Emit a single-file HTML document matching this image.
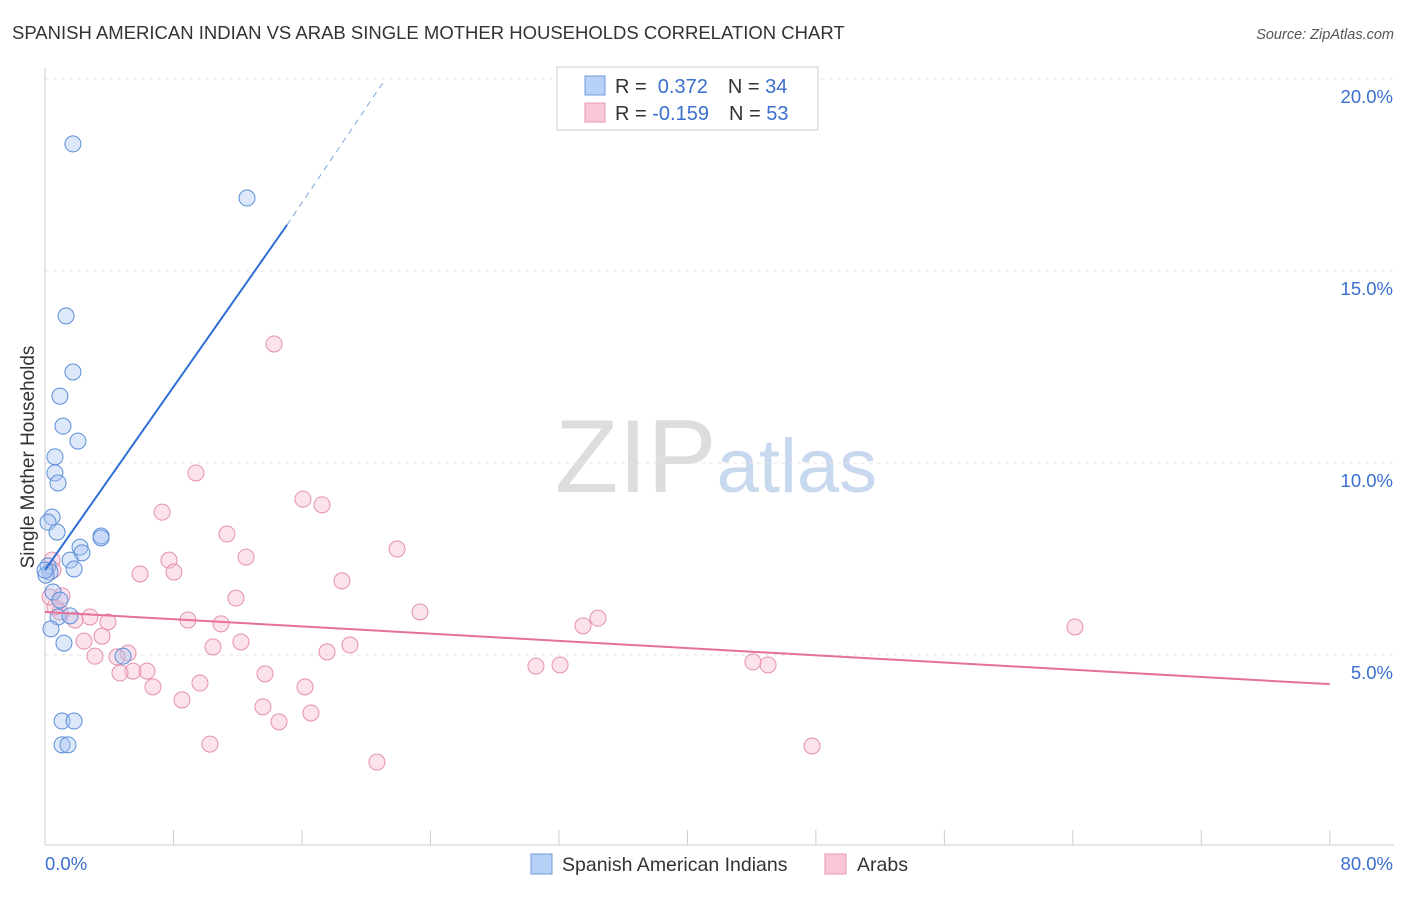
<!DOCTYPE html>
<html><head><meta charset="utf-8"><style>
body{margin:0;background:#fff;font-family:"Liberation Sans",sans-serif}
svg text{font-family:"Liberation Sans",sans-serif}
</style></head><body>
<svg width="1406" height="892" xmlns="http://www.w3.org/2000/svg" id="chart">
<text x="12" y="39" font-size="18.5" fill="#333">SPANISH AMERICAN INDIAN VS ARAB SINGLE MOTHER HOUSEHOLDS CORRELATION CHART</text>
<text x="1394" y="39" font-size="14.5" fill="#555" text-anchor="end" font-style="italic">Source: ZipAtlas.com</text>
<text x="716" y="492" font-size="104" text-anchor="middle" fill="#ddd" font-family="Liberation Serif">ZIP<tspan fill="#c8d8ee" font-family="Liberation Sans" font-size="76">atlas</tspan></text>
<text transform="translate(34,457) rotate(-90)" font-size="19" fill="#333" text-anchor="middle">Single Mother Households</text>
<g id="grid"></g><g id="axes"></g><g id="marks"></g>
<g>
<rect x="557" y="67" width="261" height="63" fill="#fff" stroke="#ccc"/>
<rect x="585" y="76" width="20" height="19" fill="#b7d0f5" stroke="#6c9be0"/>
<rect x="585" y="103" width="20" height="19" fill="#f9c8d8" stroke="#e89ab4"/>
<text x="615" y="93" font-size="20" fill="#333">R = <tspan fill="#3a6fd0">&#160;0.372</tspan><tspan dx="20" fill="#333">N = </tspan><tspan fill="#3a6fd0">34</tspan></text>
<text x="615" y="120" font-size="20" fill="#333">R = <tspan fill="#3a6fd0">-0.159</tspan><tspan dx="20" fill="#333">N = </tspan><tspan fill="#3a6fd0">53</tspan></text>
</g>
<g>
<rect x="531" y="854" width="21" height="20" fill="#b7d0f5" stroke="#6c9be0"/>
<text x="562" y="871" font-size="19.5" fill="#333">Spanish American Indians</text>
<rect x="825" y="854" width="21" height="20" fill="#f9c8d8" stroke="#e89ab4"/>
<text x="857" y="871" font-size="19.5" fill="#333">Arabs</text>
</g>
</svg>
<script>
const xTicks=[0,80];
const yTicks=[5,10,15,20];
const blueX=[1.74,12.58,1.31,1.74,0.93,1.12,2.05,0.62,0.62,0.81,0.44,0.19,0.75,3.49,3.49,2.18,2.30,1.56,1.81,0.19,0.31,0.06,0.50,0.93,0.81,1.56,0.37,1.18,4.86,1.06,1.81,1.06,1.43,0];
const blueY=[18.31,16.90,13.83,12.37,11.74,10.96,10.57,10.16,9.74,9.48,8.59,8.46,8.20,8.10,8.05,7.81,7.66,7.47,7.24,7.32,7.16,7.08,6.64,6.43,5.99,6.02,5.68,5.31,4.97,3.28,3.28,2.66,2.66,7.21];
const pinkX=[14.26,9.40,16.06,17.25,7.29,11.33,21.92,7.72,12.52,5.92,8.03,18.49,11.89,23.35,34.43,33.50,64.13,8.90,10.96,3.92,2.80,1.87,0.93,0.62,0.31,1.06,0.44,0.50,3.55,2.43,12.20,10.46,18.99,17.56,5.17,4.48,3.11,6.35,5.48,4.67,13.70,30.57,32.07,44.08,45.02,6.72,9.65,16.19,8.53,13.57,16.56,14.57,10.27,47.76,20.67];
const pinkY=[13.10,9.74,9.06,8.91,8.72,8.15,7.76,7.47,7.55,7.11,7.16,6.93,6.48,6.12,5.96,5.76,5.73,5.91,5.81,5.86,5.99,5.91,6.12,6.25,6.51,6.54,7.47,7.21,5.49,5.36,5.34,5.21,5.26,5.08,5.05,4.95,4.97,4.58,4.58,4.53,4.51,4.71,4.74,4.82,4.74,4.17,4.27,4.17,3.83,3.65,3.49,3.26,2.68,2.63,2.21];
const blueTrend=[[0,7.21],[15.07,16.2],[21.2,20]];
const pinkTrend=[[0,6.12],[80,4.24]];
const X=v=>45+v*16.06, Y=v=>847-v*38.4;
const NS="http://www.w3.org/2000/svg";
function mk(t,a,p){const e=document.createElementNS(NS,t);for(const k in a)e.setAttribute(k,a[k]);p.appendChild(e);return e;}
const grid=document.getElementById('grid'),axes=document.getElementById('axes'),marks=document.getElementById('marks');
yTicks.forEach(v=>{const l=mk('line',{x1:45,x2:1394,y1:Y(v),y2:Y(v),stroke:'#e4e4e4','stroke-dasharray':'4,4'},grid);

const t=mk('text',{x:1393,y:Y(v)+24,'font-size':18.5,fill:'#3a6fd0','text-anchor':'end'},axes);t.textContent=v.toFixed(1)+'%';
});
const ax=mk('line',{x1:45,x2:1394,y1:845,y2:845,stroke:'#ccc'},axes);

const ay=mk('line',{x1:45,x2:45,y1:68,y2:845,stroke:'#ccc'},axes);

for(let i=0;i<=10;i++){const tk=mk('line',{x1:X(i*8),x2:X(i*8),y1:830,y2:845,stroke:'#ccc'},axes);
}
xTicks.forEach((v,i)=>{const t=mk('text',{x:i?1393:45,y:870,'font-size':18.5,fill:'#3a6fd0','text-anchor':i?'end':'start'},axes);t.textContent=v.toFixed(1)+'%';
});
function pts(xs,ys,fill,stroke,name){xs.forEach((x,i)=>{const c=mk('circle',{cx:X(x),cy:Y(ys[i]),r:8,fill:fill,'fill-opacity':0.4,stroke:stroke,'stroke-width':1},marks);
});}
pts(pinkX,pinkY,'#f7b8cc','#e58fae','arab-point');
pts(blueX,blueY,'#a9c6f2','#5b8ed8','spanish-american-indian-point');
const b1=mk('line',{x1:X(blueTrend[0][0]),y1:Y(blueTrend[0][1]),x2:X(blueTrend[1][0]),y2:Y(blueTrend[1][1]),stroke:'#2f6fd6','stroke-width':2},marks);

const b2=mk('line',{x1:X(blueTrend[1][0]),y1:Y(blueTrend[1][1]),x2:X(blueTrend[2][0]),y2:Y(blueTrend[2][1]),stroke:'#7fa3dc','stroke-width':1,'stroke-dasharray':'6,5'},marks);

const p1=mk('line',{x1:X(pinkTrend[0][0]),y1:Y(pinkTrend[0][1]),x2:X(pinkTrend[1][0]),y2:Y(pinkTrend[1][1]),stroke:'#e5719a','stroke-width':2},marks);

</script>
</body></html>
